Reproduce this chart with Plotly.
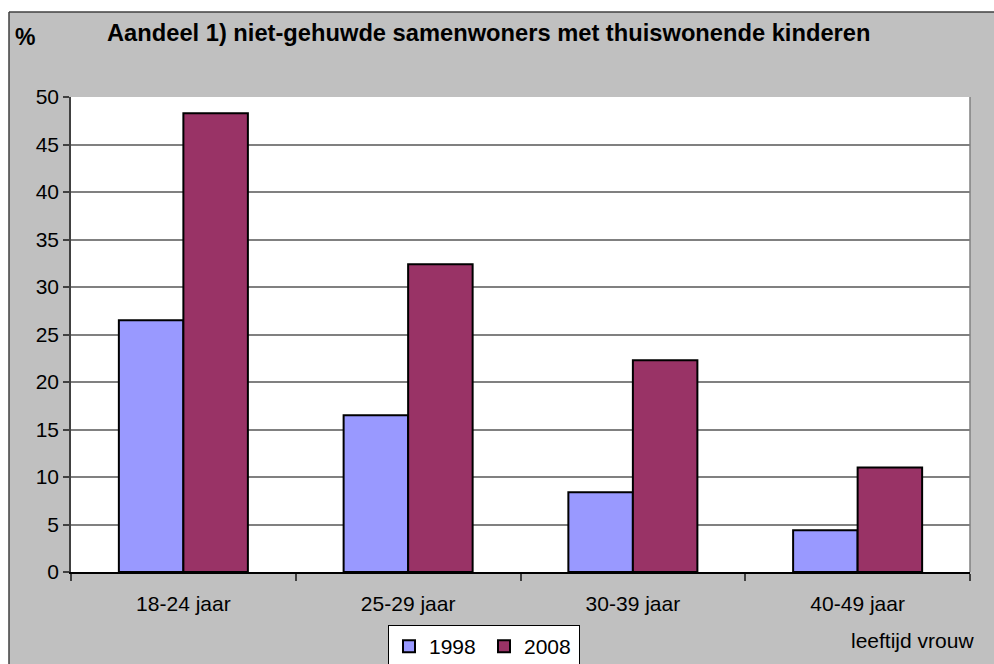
import plotly.graph_objects as go

categories = ["18-24 jaar", "25-29 jaar", "30-39 jaar", "40-49 jaar"]
values_1998 = [26.5, 16.5, 8.4, 4.4]
values_2008 = [48.3, 32.4, 22.3, 11.0]
series_names = ["1998", "2008"]
title_text = "Aandeel 1) niet-gehuwde samenwoners met thuiswonende kinderen"
y_unit = "%"
x_label = "leeftijd vrouw"

W, H = 994, 664
L, R, T, B = 71, 24, 97, 92
pw, ph = W - L - R, H - T - B

def px(x):
    return (x - L) / pw

def py(y):
    return (H - B - y) / ph

font_main = "Liberation Sans, Arial, sans-serif"

fig = go.Figure()
fig.add_trace(go.Bar(x=categories, y=values_1998, name=series_names[0],
                     marker=dict(color="#9999FF", line=dict(color="black", width=2))))
fig.add_trace(go.Bar(x=categories, y=values_2008, name=series_names[1],
                     marker=dict(color="#993366", line=dict(color="black", width=2))))

shapes = [
    dict(type="rect", xref="paper", yref="paper", x0=px(-10), x1=px(W + 10), y0=py(12), y1=py(-10),
         fillcolor="white", line=dict(width=0), layer="below"),
    dict(type="rect", xref="paper", yref="paper", x0=px(-10), x1=px(9), y0=py(H + 10), y1=py(-10),
         fillcolor="white", line=dict(width=0), layer="below"),
    dict(type="line", xref="paper", yref="paper", x0=px(9), x1=px(W + 10), y0=py(12), y1=py(12),
         line=dict(color="#404040", width=1.5)),
    dict(type="line", xref="paper", yref="paper", x0=px(9), x1=px(9), y0=py(12), y1=py(H + 10),
         line=dict(color="#404040", width=1.5)),
    dict(type="line", xref="paper", yref="paper", x0=1, x1=1, y0=0, y1=1,
         line=dict(color="#808080", width=1.5)),
]

annotations = [
    dict(text="<b>" + title_text + "</b>", xref="paper", yref="paper", x=px(105), y=py(33),
         xanchor="left", yanchor="middle", showarrow=False,
         font=dict(family=font_main, size=23.7, color="black")),
    dict(text="<b>" + y_unit + "</b>", xref="paper", yref="paper", x=px(13), y=py(37),
         xanchor="left", yanchor="middle", showarrow=False,
         font=dict(family=font_main, size=23, color="black")),
    dict(text=x_label, xref="paper", yref="paper", x=px(976), y=py(640),
         xanchor="right", yanchor="middle", showarrow=False,
         font=dict(family=font_main, size=21, color="black")),
]

fig.update_layout(
    width=W, height=H,
    margin=dict(l=L, r=R, t=T, b=B, pad=0, autoexpand=False),
    paper_bgcolor="#C0C0C0",
    plot_bgcolor="white",
    barmode="group",
    bargap=0.426,
    bargroupgap=0,
    font=dict(family=font_main, size=21, color="black"),
    showlegend=True,
    legend=dict(orientation="h", x=px(388), y=py(625), xanchor="left", yanchor="top",
                bgcolor="white", bordercolor="black", borderwidth=1,
                font=dict(family=font_main, size=21, color="black"),
                itemwidth=30, tracegroupgap=0, entrywidth=50, entrywidthmode="pixels"),
    shapes=shapes,
    annotations=annotations,
)

fig.update_xaxes(
    type="category", showline=True, linecolor="black", linewidth=2,
    ticks="outside", tickson="boundaries", ticklen=7, tickcolor="#404040", tickwidth=1.5,
    showgrid=False, ticklabelstandoff=12,
    tickfont=dict(family=font_main, size=21, color="black"),
)
fig.update_yaxes(
    range=[0, 50], dtick=5, showline=True, linecolor="#404040", linewidth=1.5,
    ticks="outside", ticklen=6, tickcolor="#404040", tickwidth=1.5,
    showgrid=True, gridcolor="#808080", gridwidth=1.5, zeroline=False,
    ticklabelstandoff=0,
    tickfont=dict(family=font_main, size=21, color="black"),
)

fig.write_html("out.html", config={"displayModeBar": False},
               post_script="document.body.style.margin='0';document.body.style.overflow='hidden';")
